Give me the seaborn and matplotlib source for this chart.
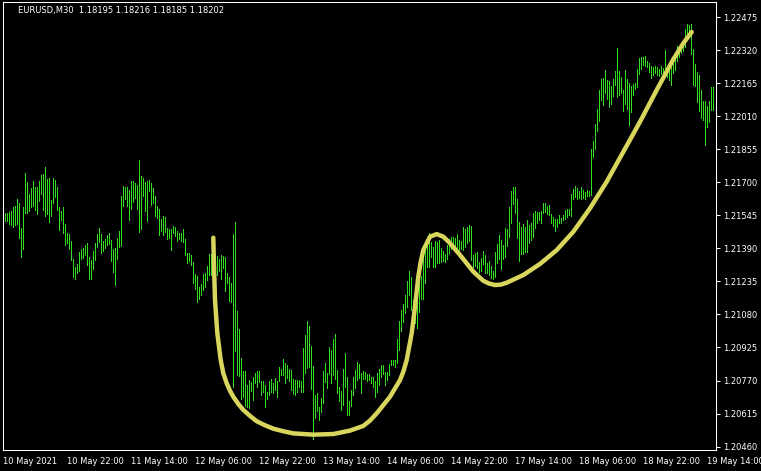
import numpy as np
import pandas as pd
import seaborn as sns
import matplotlib.pyplot as plt

# EURUSD M30 bars, prices in points (1 point = 0.00001)
high_pts = [
    121551, 121554, 121557, 121560, 121566, 121582, 121588, 121620, 121604, 121485,
    121582, 121742, 121701, 121645, 121673, 121704, 121679, 121676, 121704, 121732,
    121738, 121770, 121717, 121720, 121616, 121720, 121710, 121679, 121582, 121566,
    121582, 121504, 121463, 121457, 121426, 121341, 121304, 121316, 121372, 121388,
    121394, 121404, 121413, 121351, 121335, 121379, 121413, 121457, 121485, 121457,
    121426, 121435, 121454, 121460, 121429, 121388, 121394, 121438, 121473, 121635,
    121682, 121679, 121676, 121663, 121707, 121704, 121695, 121688, 121804, 121729,
    121720, 121701, 121704, 121710, 121698, 121673, 121635, 121588, 121573, 121529,
    121541, 121535, 121485, 121482, 121482, 121494, 121488, 121473, 121460, 121463,
    121479, 121435, 121369, 121366, 121360, 121326, 121272, 121260, 121207, 121223,
    121270, 121276, 121307, 121364, 121364, 121382, 121354, 121354, 121339, 121357,
    121354, 121348, 121276, 121254, 121226, 121458, 121514, 121095, 121010, 120876,
    120816, 120813, 120748, 120773, 120763, 120785, 120807, 120813, 120813, 120770,
    120766, 120748, 120716, 120770, 120779, 120760, 120782, 120770, 120832, 120826,
    120873, 120851, 120841, 120823, 120820, 120779, 120773, 120773, 120773, 120766,
    120923, 120985, 121051, 121026, 120932, 120838, 120704, 120710, 120648, 120688,
    120816, 120851, 120804, 120929, 120913, 120966, 120988, 120820, 120741, 120723,
    120826, 120901, 120788, 120676, 120726, 120788, 120820, 120857, 120848, 120807,
    120813, 120810, 120801, 120801, 120785, 120788, 120766, 120804, 120823, 120841,
    120845, 120810, 120810, 120848, 120866, 120866, 120866, 120966, 121051, 121101,
    121129, 121173, 121235, 121286, 121254, 121148, 121107, 121195, 121248, 121260,
    121376, 121414, 121429, 121464, 121420, 121398, 121423, 121420, 121429, 121392,
    121379, 121363, 121404, 121435, 121442, 121442, 121438, 121457, 121429, 121423,
    121489, 121482, 121492, 121498, 121495, 121357, 121367, 121373, 121326, 121345,
    121376, 121360, 121323, 121332, 121307, 121282, 121373, 121410, 121454, 121429,
    121404, 121485, 121482, 121582, 121661, 121679, 121676, 121623, 121514, 121489,
    121504, 121489, 121523, 121501, 121507, 121557, 121567, 121560, 121560, 121567,
    121604, 121601, 121589, 121592, 121551, 121539, 121529, 121526, 121545, 121532,
    121548, 121570, 121573, 121576, 121645, 121667, 121682, 121673, 121657, 121676,
    121664, 121654, 121664, 121661, 121854, 121892, 121973, 122045, 122133, 122186,
    122189, 122227, 122180, 122177, 122152, 122186, 122223, 122330, 122223, 122192,
    122133, 122227, 122186, 122167, 122152, 122161, 122167, 122233, 122283, 122286,
    122289, 122292, 122270, 122261, 122248, 122239, 122245, 122239, 122230, 122248,
    122236, 122320, 122248, 122239, 122280, 122289, 122305, 122339, 122339, 122339,
    122339, 122417, 122442, 122439, 122442, 122327, 122255, 122217, 122202, 122133,
    122083, 122080, 122058, 122080, 122148, 122145,
]
low_pts = [
    121494, 121519, 121519, 121504, 121501, 121491, 121498, 121504, 121438, 121351,
    121388, 121557, 121557, 121566, 121582, 121591, 121570, 121551, 121613, 121645,
    121570, 121541, 121551, 121513, 121544, 121601, 121632, 121570, 121476, 121523,
    121463, 121407, 121416, 121388, 121335, 121254, 121247, 121276, 121285, 121341,
    121347, 121357, 121310, 121247, 121247, 121294, 121335, 121397, 121419, 121366,
    121379, 121394, 121404, 121410, 121332, 121279, 121219, 121341, 121397, 121401,
    121588, 121620, 121591, 121523, 121576, 121607, 121626, 121573, 121466, 121482,
    121635, 121566, 121519, 121657, 121595, 121601, 121544, 121532, 121454, 121470,
    121451, 121466, 121435, 121438, 121382, 121463, 121448, 121426, 121435, 121426,
    121419, 121360, 121322, 121332, 121313, 121229, 121200, 121138, 121154, 121173,
    121195, 121207, 121242, 121264, 121267, 121257, 121295, 121264, 121286, 121248,
    121298, 121189, 121226, 121142, 121139, 120741, 120907, 120795, 120791, 120685,
    120691, 120651, 120648, 120641, 120719, 120679, 120760, 120738, 120763, 120704,
    120716, 120644, 120685, 120701, 120716, 120713, 120726, 120694, 120766, 120795,
    120795, 120760, 120782, 120766, 120726, 120707, 120704, 120716, 120741, 120716,
    120716, 120807, 120829, 120832, 120729, 120497, 120594, 120626, 120585, 120622,
    120663, 120763, 120735, 120801, 120760, 120798, 120779, 120710, 120676, 120632,
    120657, 120738, 120607, 120607, 120651, 120704, 120735, 120773, 120782, 120713,
    120779, 120776, 120766, 120773, 120760, 120738, 120694, 120716, 120748, 120788,
    120801, 120748, 120773, 120795, 120841, 120841, 120832, 120854, 120913, 121001,
    121045, 121085, 121117, 121170, 121101, 121038, 121038, 121017, 121092, 121154,
    121151, 121229, 121304, 121304, 121351, 121304, 121304, 121323, 121320, 121326,
    121332, 121326, 121342, 121367, 121388, 121395, 121395, 121376, 121351, 121388,
    121382, 121398, 121413, 121426, 121335, 121304, 121307, 121298, 121279, 121285,
    121317, 121273, 121273, 121263, 121251, 121248, 121257, 121320, 121342, 121295,
    121338, 121351, 121401, 121445, 121507, 121598, 121554, 121438, 121332, 121363,
    121363, 121373, 121373, 121413, 121429, 121442, 121485, 121507, 121523, 121507,
    121557, 121560, 121551, 121548, 121507, 121495, 121470, 121492, 121507, 121510,
    121523, 121529, 121539, 121548, 121542, 121620, 121632, 121623, 121626, 121623,
    121626, 121623, 121636, 121636, 121639, 121820, 121858, 121942, 121986, 122086,
    122064, 122120, 122092, 122051, 122067, 122105, 122158, 122098, 122108, 122117,
    122036, 122067, 122042, 121970, 122030, 122111, 122136, 122145, 122208, 122230,
    122252, 122248, 122242, 122217, 122189, 122202, 122211, 122205, 122198, 122208,
    122198, 122211, 122195, 122180, 122158, 122211, 122227, 122267, 122289, 122308,
    122314, 122336, 122367, 122383, 122302, 122155, 122152, 122076, 122036, 122001,
    121992, 121876, 121961, 121983, 122039, 122039,
]

# hand-drawn yellow curve (bar index, price in points)
curve_bar = [105.0, 105.35, 105.5, 105.85, 107.0, 108.7, 110.0, 111.7, 113.35, 115.0,
             117.5, 120.0, 123.35, 126.7, 130.85, 135.0, 140.0, 145.0, 155.0, 165.0,
             173.35, 180.0, 183.35, 186.7, 193.35, 198.35, 200.0, 201.7, 204.2, 205.85,
             207.5, 208.7, 210.0, 213.35, 216.7, 220.0, 223.35, 228.35, 235.0, 240.0,
             242.85, 245.85, 248.75, 251.7, 260.0, 268.35, 276.7, 285.0, 293.35, 301.7,
             310.0, 318.35, 326.7, 335.0, 340.0, 344.2]
curve_pts = [121440, 121304, 121257, 121148, 120993, 120866, 120804, 120757, 120722, 120694,
             120660, 120632, 120604, 120579, 120560, 120544, 120532, 120522, 120516, 120519,
             120535, 120557, 120582, 120616, 120694, 120772, 120811, 120866, 120992, 121116,
             121257, 121327, 121382, 121445, 121457, 121445, 121414, 121359, 121281, 121238,
             121225, 121218, 121220, 121229, 121265, 121317, 121382, 121468, 121578, 121703,
             121843, 121984, 122133, 122277, 122352, 122405]

ytick_values = [1.22475, 1.22320, 1.22165, 1.22010, 1.21855, 1.21700, 1.21545,
                1.21390, 1.21235, 1.21080, 1.20925, 1.20770, 1.20615, 1.20460]
xtick_bars = [0, 32, 64, 96, 128, 160, 192, 224, 256, 288, 320, 352]
xtick_labels = ['10 May 2021', '10 May 22:00', '11 May 14:00', '12 May 06:00',
                '12 May 22:00', '13 May 14:00', '14 May 06:00', '14 May 22:00',
                '17 May 14:00', '18 May 06:00', '18 May 22:00', '19 May 14:00']
header = 'EURUSD,M30  1.18195 1.18216 1.18185 1.18202'

sns.set_style('dark', rc={'axes.facecolor': 'black', 'figure.facecolor': 'black'})
plt.rcParams['font.family'] = ['DejaVu Sans']

n = len(high_pts)
bars = pd.DataFrame({
    'bar': np.repeat(np.arange(n), 2),
    'price': np.column_stack([low_pts, high_pts]).ravel() / 1e5,
})

fig = plt.figure(figsize=(7.61, 4.71), dpi=100)
ax = fig.add_axes([3 / 761, 21 / 471, 713 / 761, 448 / 471])

# each bar = vertical high-low line
sns.lineplot(data=bars, x='bar', y='price', units='bar', estimator=None,
             color='#33dd22', lw=0.72, antialiased=False, ax=ax, legend=False)

sns.lineplot(x=curve_bar, y=np.array(curve_pts) / 1e5, sort=False, ax=ax,
             color='#d8d65c', lw=3.2, solid_capstyle='round', solid_joinstyle='round')

ax.set_xlim(-0.15, 356.35)
ax.set_ylim(1.20444, 1.22546)
ax.grid(False)
ax.set_xlabel('')
ax.set_ylabel('')

ax.yaxis.tick_right()
ax.set_yticks(ytick_values)
ax.set_yticklabels([f'{v:.5f}' for v in ytick_values])
ax.set_xticks(xtick_bars)
ax.set_xticklabels(xtick_labels, ha='left')
ax.tick_params(axis='both', colors='white', labelcolor='white', direction='out',
               length=3, width=0.75, labelsize=6)
ax.tick_params(axis='y', pad=2)
ax.tick_params(axis='x', pad=2)
for s in ax.spines.values():
    s.set_visible(True)
    s.set_color('white')
    s.set_linewidth(0.75)

fig.text(18 / 761, 1 - 10.5 / 471, header, color='white', fontsize=6,
         ha='left', va='center')

fig.savefig('out.png', dpi=100, facecolor='black')
